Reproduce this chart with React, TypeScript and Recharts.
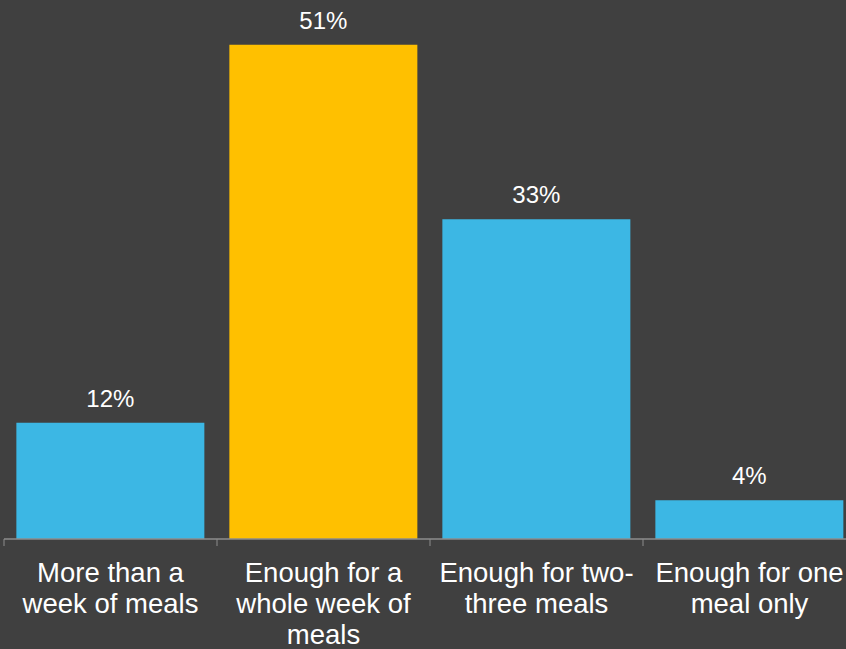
import * as React from 'react'
import { BarChart, Bar, XAxis, YAxis, Cell, LabelList } from 'recharts'

// categories and their wrapped tick labels
const categories = [
  'More than a week of meals',
  'Enough for a whole week of meals',
  'Enough for two-three meals',
  'Enough for one meal only',
]
const tickLines = [
  ['More than a', 'week of meals'],
  ['Enough for a', 'whole week of', 'meals'],
  ['Enough for two-', 'three meals'],
  ['Enough for one', 'meal only'],
]
const shares = [12, 51, 33, 4]
const highlight = [false, true, false, false]

const BG = '#404040'
const BLUE = '#3CB7E4'
const YELLOW = '#FFC000'
const AXIS = '#8c8c8c'
const FONT = '"Liberation Sans", Arial, sans-serif'

const data = categories.map((name, i) => ({ name, value: shares[i] }))

const CategoryTick = (props: any) => {
  const { x, y, index, payload } = props
  const half = payload && payload.offset ? payload.offset : 0
  const lines = tickLines[index] || []
  const last = index === categories.length - 1
  return (
    <g>
      <line x1={x - half} x2={x - half} y1={y} y2={y + 7} stroke={AXIS} strokeWidth={1} />
      {last && <line x1={x + half} x2={x + half} y1={y} y2={y + 7} stroke={AXIS} strokeWidth={1} />}
      <text x={x} y={y + 43} textAnchor="middle" fill="#ffffff" fontSize={27.5} fontFamily={FONT}>
        {lines.map((l, i) => (
          <tspan key={i} x={x} dy={i === 0 ? 0 : 31}>
            {l}
          </tspan>
        ))}
      </text>
    </g>
  )
}

export default function App() {
  return (
    <div
      style={{
        position: 'fixed',
        left: 0,
        top: 0,
        width: 846,
        height: 649,
        overflow: 'hidden',
        background: BG,
      }}
    >
      <BarChart
        width={860}
        height={649}
        data={data}
        margin={{ top: 6, right: 4, left: 4, bottom: 0 }}
        barCategoryGap="5.8%"
      >
        <XAxis
          dataKey="name"
          height={110}
          interval={0}
          tickLine={false}
          tickSize={0}
          tickMargin={0}
          axisLine={{ stroke: AXIS, strokeWidth: 1.5 }}
          tick={<CategoryTick />}
        />
        <YAxis hide domain={[0, 55]} />
        <Bar dataKey="value" isAnimationActive={false}>
          {data.map((d, i) => (
            <Cell key={d.name} fill={highlight[i] ? YELLOW : BLUE} />
          ))}
          <LabelList
            dataKey="value"
            position="top"
            offset={16}
            fill="#ffffff"
            fontSize={24}
            fontFamily={FONT}
            formatter={(v: any) => `${v}%`}
          />
        </Bar>
      </BarChart>
    </div>
  )
}
